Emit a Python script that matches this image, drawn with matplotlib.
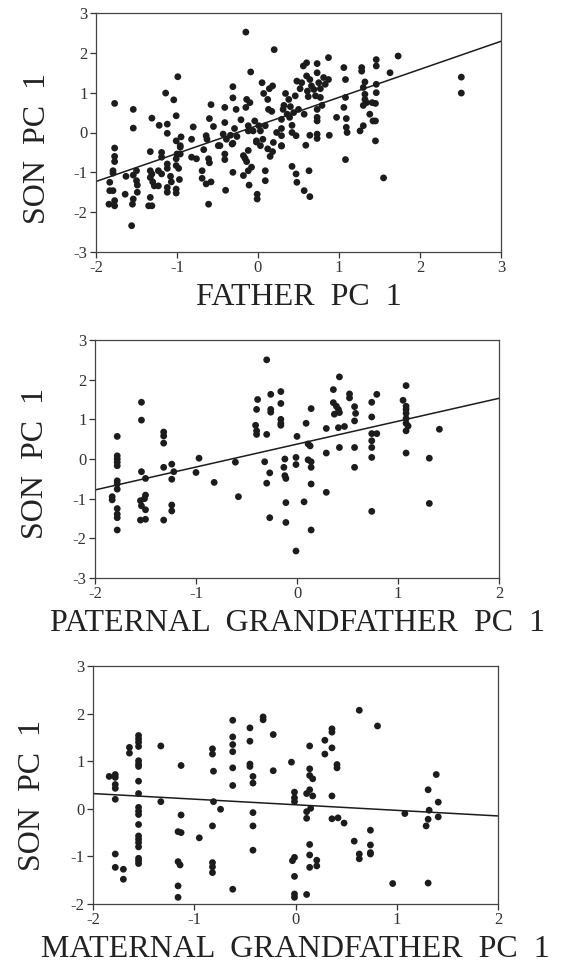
import matplotlib
matplotlib.use("Agg")
import matplotlib.pyplot as plt
import numpy as np

plt.rcParams['font.family'] = ['Liberation Serif', 'DejaVu Serif']
plt.rcParams['axes.unicode_minus'] = False

# ---------------- Panel 1: Father PC1 vs Son PC1 ----------------
father_x = [-1.77,-1.54,-1.54,-1.77,-1.31,-1.22,-1.14,-1.12,-1.12,-1.04,-0.99,-1.01,-1.01,-0.95,-0.96,
            -0.80,-0.82,-0.63,-0.64,-0.60,-0.58,-0.55,-0.49,-0.43,-0.41,-0.41,-0.39,-0.34,-0.31,-0.31,
            -0.29,-0.27,-0.26,-0.31,-0.21,-0.15,-0.14,-0.15,-0.10,-0.09,-0.12,-0.12,-0.06,-0.04,-0.02,
            0.01,0.03,0.05,0.07,0.06,0.09,0.12,0.13,0.14,0.18,0.17,0.19,0.20,0.23,0.29,
            0.29,0.29,0.29,0.31,0.32,0.34,0.36,0.38,0.39,0.40,0.42,0.42,0.44,0.46,0.47,
            0.48,0.50,0.52,0.54,0.56,0.57,0.59,0.60,0.60,0.61,0.62,0.64,0.64,0.66,0.69,
            0.71,0.73,0.73,0.73,0.73,0.73,0.73,0.73,0.75,0.77,0.77,0.79,0.81,0.83,0.87,
            0.87,0.88,0.97,1.06,1.08,1.08,1.06,1.09,1.09,1.10,1.26,1.30,1.28,1.28,1.32,
            1.30,1.32,1.32,1.30,1.34,1.38,1.42,1.41,1.46,1.46,1.46,1.46,1.45,1.45,1.45,
            1.63,1.73,2.51,2.51,
            -1.77,-1.77,-1.79,-1.79,-1.83,-1.83,-1.79,-1.77,-1.84,-1.77,-1.63,-1.64,-1.56,-1.54,-1.50,
            -1.50,-1.49,-1.54,-1.55,-1.49,-1.33,-1.33,-1.33,-1.31,-1.30,-1.28,-1.33,-1.35,-1.31,-1.19,
            -1.19,-1.23,-1.19,-1.23,-1.12,-1.12,-1.12,-1.12,-1.08,-1.07,-1.00,-1.01,-1.01,-0.98,-1.01,
            -1.01,-0.97,-0.96,-0.96,-0.82,-0.76,-0.67,-0.69,-0.69,-0.64,-0.61,-0.60,-0.58,-0.61,-0.47,
            -0.41,-0.41,-0.40,-0.32,-0.31,-0.18,-0.16,-0.18,-0.14,-0.12,-0.12,-0.08,-0.11,-0.02,-0.01,
            -0.01,0.03,0.09,0.09,0.12,0.15,0.18,0.29,0.42,0.47,0.48,0.57,0.64,0.63,1.08,
            1.55]
son_y1 = [0.73,0.58,0.11,-0.39,0.36,0.18,0.99,0.21,-0.02,0.82,1.40,0.42,-0.21,-0.11,-0.33,
          0.14,-0.17,-0.17,-0.08,0.35,0.70,0.15,-0.33,-0.04,0.25,0.63,-0.17,-0.07,1.15,0.87,
          0.10,0.58,-0.10,-0.27,0.32,2.52,0.83,0.63,0.75,1.52,0.04,0.17,0.04,0.29,-0.21,
          0.17,0.04,1.25,0.98,-0.17,0.17,0.83,0.58,1.10,1.17,0.53,-0.25,2.08,0.00,-0.08,
          0.10,-0.33,0.33,0.58,0.68,0.98,0.46,0.83,0.38,0.65,0.18,0.00,0.50,0.92,-0.08,
          1.29,0.58,1.10,1.25,1.67,0.46,-0.32,1.75,1.42,1.04,0.90,-0.07,1.33,1.17,1.08,
          0.92,1.50,1.73,0.58,0.38,0.29,-0.04,-0.15,1.25,1.10,0.88,0.68,1.38,1.21,1.88,
          1.33,-0.07,0.38,1.63,1.33,0.88,0.63,0.35,0.13,0.00,0.04,0.17,1.63,1.54,1.27,
          1.13,0.96,0.83,0.68,0.75,0.46,0.29,0.75,1.83,1.67,1.21,1.00,0.73,0.29,-0.21,
          1.50,1.92,1.39,0.99,
          -0.60,-0.73,-0.96,-1.02,-1.25,-1.46,-1.46,-1.71,-1.80,-1.84,-1.10,-1.55,-2.34,-1.07,-0.96,
          -1.21,-1.32,-1.67,-1.80,-1.50,-0.48,-0.96,-1.13,-1.04,-1.24,-1.34,-1.63,-1.84,-1.84,-0.50,
          -0.62,-0.96,-1.04,-1.34,-0.79,-0.90,-1.38,-1.50,-1.10,-1.24,-0.54,-0.66,-0.83,-0.90,-1.42,
          -1.52,-1.18,-0.37,-0.54,-0.62,-0.66,-0.43,-0.96,-1.15,-1.29,-0.66,-0.76,-1.24,-1.80,-0.33,
          -0.54,-0.68,-1.45,-0.29,-1.00,-0.58,-0.65,-1.08,-0.73,-0.45,-0.96,-0.87,-1.32,-0.24,-1.55,
          -1.67,-0.33,-0.96,-1.21,-0.41,-0.60,-0.48,-0.34,-0.85,-1.04,-1.25,-1.46,-1.61,-0.96,-0.68,
          -1.14]
fit1_x = [-2, 3]
fit1_y = [-1.23, 2.29]

# ---------------- Panel 2: Paternal grandfather PC1 vs Son PC1 ----------------
pgf_x = [-1.78,-1.78,-1.54,-1.54,-1.32,-1.32,-1.32,-0.97,-0.40,-0.39,-0.41,-0.40,-0.40,-0.30,-0.30,
         -0.26,-0.26,-0.26,-0.16,-0.16,-0.16,-0.16,-0.16,0.00,0.09,0.11,0.13,0.14,0.29,0.29,
         0.36,0.36,0.37,0.39,0.41,0.41,0.42,0.42,0.42,0.47,0.52,0.52,0.57,0.58,0.57,
         0.57,0.74,0.74,0.74,0.74,0.74,0.79,0.79,1.05,1.08,1.08,1.08,1.08,1.08,1.08,
         1.10,1.08,1.08,1.41,
         -1.78,-1.78,-1.78,-1.78,-1.78,-1.78,-1.83,-1.83,-1.78,-1.78,-1.78,-1.78,
         -1.54,-1.50,-1.50,-1.51,-1.55,-1.54,-1.50,-1.55,-1.50,-1.32,-1.24,-1.22,-1.24,-1.24,
         -1.24,-1.32,-1.00,-0.82,-0.61,-0.58,-0.32,-0.30,-0.27,-0.27,-0.12,-0.13,-0.12,-0.11,
         -0.11,-0.11,-0.01,-0.01,-0.01,0.07,0.11,0.14,0.14,0.14,0.14,0.29,0.57,0.74,0.74,
         1.31,1.31]
son_y2 = [0.57,0.08,1.43,0.98,0.68,0.58,0.40,0.02,1.25,1.50,0.85,0.71,0.62,2.50,0.62,
          1.63,1.25,1.18,1.70,1.40,1.00,0.90,0.85,0.57,0.90,0.38,0.33,1.27,0.77,0.15,
          1.75,1.42,1.13,1.33,1.25,0.79,0.29,2.07,1.17,0.82,1.64,1.54,1.32,1.15,0.96,
          0.29,1.43,1.06,0.64,0.46,0.29,0.64,1.63,1.48,1.85,1.33,1.25,1.15,1.02,0.90,
          0.83,0.71,0.15,0.75,
          0.00,-0.08,-0.17,-0.55,-0.63,-0.76,-0.95,-1.03,-1.25,-1.39,-1.48,-1.79,
          -0.32,-0.49,-0.91,-1.00,-1.05,-1.18,-1.28,-1.54,-1.52,-0.21,-0.13,-0.32,-0.51,-1.16,
          -1.31,-1.54,-0.34,-0.59,-0.08,-0.95,-0.07,-0.61,-0.35,-1.48,0.00,-0.21,-0.42,-0.49,
          -1.10,-1.60,0.04,-0.14,-2.32,-1.08,-0.02,-0.07,-0.21,-0.63,-1.79,-0.84,-0.21,0.04,-1.32,
          0.02,-1.12]
fit2_x = [-2, 2]
fit2_y = [-0.78, 1.53]

# ---------------- Panel 3: Maternal grandfather PC1 vs Son PC1 ----------------
mgf_x = [-1.64,-1.64,-1.55,-1.55,-1.55,-1.55,-1.55,-1.55,-1.55,-1.33,-1.13,-0.82,-0.82,-0.81,-0.62,
         -0.62,-0.62,-0.62,-0.62,-0.45,-0.45,-0.45,-0.45,-0.32,-0.32,-0.22,-0.22,-0.04,0.14,0.14,
         0.29,0.29,0.36,0.36,0.36,0.41,0.41,0.63,0.81,
         -1.84,-1.78,-1.78,-1.78,-1.78,-1.78,-1.78,-1.78,-1.70,-1.70,-1.55,-1.55,-1.55,-1.55,-1.55,
         -1.55,-1.55,-1.55,-1.55,-1.55,-1.55,-1.55,-1.55,-1.33,-1.13,-1.16,-1.13,-1.16,-1.14,-1.16,
         -1.16,-0.95,-0.81,-0.82,-0.82,-0.82,-0.82,-0.74,-0.62,-0.62,-0.42,-0.42,-0.42,-0.42,-0.42,
         -0.01,-0.01,-0.01,-0.01,-0.03,-0.01,-0.01,-0.01,0.14,0.17,0.14,0.11,0.17,0.15,0.11,
         0.11,0.14,0.14,0.21,0.21,0.14,0.11,0.36,0.36,0.42,0.48,0.58,0.63,0.63,0.74,
         0.74,0.74,0.74,0.96,1.08,1.31,1.32,1.31,1.29,1.31,1.39,1.41,1.41]
son_y3 = [1.29,1.17,1.54,1.47,1.40,1.31,1.01,0.94,0.89,1.32,0.91,1.26,1.15,0.79,1.86,
          1.51,1.35,1.20,0.86,1.70,1.42,0.94,0.89,1.93,1.87,1.56,0.80,0.98,1.32,0.84,
          1.44,1.15,1.28,1.68,1.61,0.93,0.86,2.07,1.74,
          0.68,0.72,0.66,0.51,0.43,0.20,-0.95,-1.23,-1.27,-1.48,0.58,0.32,0.03,-0.05,-0.12,
          -0.33,-0.57,-0.64,-0.71,-0.80,-1.04,-1.09,-1.15,0.15,-0.13,-0.48,-0.50,-1.11,-1.18,-1.62,
          -1.86,-0.61,0.15,-0.36,-1.13,-1.22,-1.34,-0.01,0.49,-1.69,0.68,0.54,-0.08,-0.36,-0.87,
          0.35,0.23,0.15,-1.02,-1.09,-1.42,-1.79,-1.86,0.70,0.63,0.40,0.32,0.27,0.01,-0.06,
          -0.20,-0.75,-0.97,-1.08,-1.20,-1.23,-1.80,0.27,-0.21,-0.19,-0.30,-0.68,-0.95,-1.05,-0.45,
          -0.76,-0.92,-0.95,-1.57,-0.10,0.40,-0.03,-0.22,-0.36,-1.56,0.72,0.14,-0.17]
fit3_x = [-2, 2]
fit3_y = [0.32, -0.15]

ylabel = "SON  PC  1"
xlabels = ["FATHER  PC  1", "PATERNAL  GRANDFATHER  PC  1", "MATERNAL  GRANDFATHER  PC  1"]

W, H = 561, 964
fig = plt.figure(figsize=(W / 100, H / 100), dpi=100)

def box(l, t, r, b):
    return [l / W, 1 - b / H, (r - l) / W, (b - t) / H]

panels = [
    (box(96, 13, 501, 252), father_x, son_y1, fit1_x, fit1_y, (-2, 3), (-3, 3), xlabels[0], (-0.109, 0.435)),
    (box(95, 340, 499, 578), pgf_x, son_y2, fit2_x, fit2_y, (-2, 2), (-3, 3), xlabels[1], (-0.111, 0.479)),
    (box(93, 666, 498, 904), mgf_x, son_y3, fit3_x, fit3_y, (-2, 2), (-2, 3), xlabels[2], (-0.114, 0.454)),
]

ink = '#1c1c1c'
for rect, xs, ys, fx, fy, xl, yl, xlab, ylc in panels:
    ax = fig.add_axes(rect)
    ax.scatter(xs, ys, s=24, color=ink, edgecolors='none', zorder=3)
    ax.plot(fx, fy, color=ink, lw=1.1, zorder=2)
    ax.set_xlim(*xl)
    ax.set_ylim(*yl)
    ax.set_xticks(range(xl[0], xl[1] + 1))
    ax.set_yticks(range(yl[0], yl[1] + 1))
    ax.tick_params(direction='out', length=4, width=0.9, colors='#333333',
                   labelsize=12, top=False, right=False, pad=2)
    for sp in ax.spines.values():
        sp.set_color('#444444')
        sp.set_linewidth(0.9)
    ax.set_ylabel(ylabel, fontsize=23, color='#222222')
    ax.yaxis.set_label_coords(*ylc)
    ax.set_xlabel(xlab, fontsize=23, color='#222222', labelpad=5)

fig.savefig("out.png", dpi=100)
